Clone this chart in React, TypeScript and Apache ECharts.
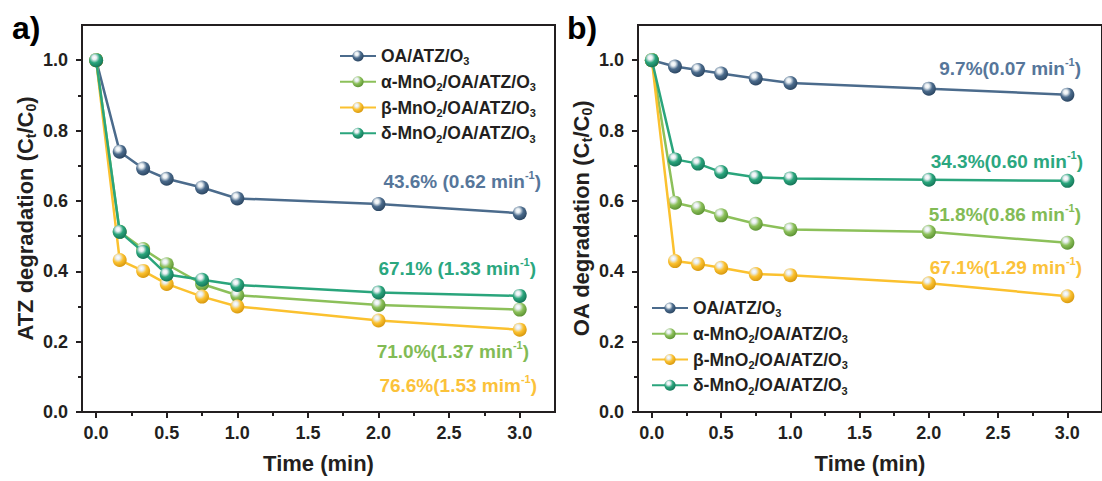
import React, { useEffect, useRef } from "react";
import * as echarts from "echarts";

const times = [0, 0.167, 0.333, 0.5, 0.75, 1, 2, 3];
const seriesNames = ["OA/ATZ/O3", "α-MnO2/OA/ATZ/O3", "β-MnO2/OA/ATZ/O3", "δ-MnO2/OA/ATZ/O3"];

const atzOA = [1, 0.74, 0.692, 0.663, 0.638, 0.607, 0.591, 0.565];
const atzAlpha = [1, 0.512, 0.463, 0.42, 0.364, 0.332, 0.304, 0.291];
const atzBeta = [1, 0.432, 0.401, 0.364, 0.328, 0.3, 0.26, 0.234];
const atzDelta = [1, 0.512, 0.455, 0.391, 0.376, 0.361, 0.34, 0.33];

const oaOA = [1, 0.982, 0.972, 0.962, 0.948, 0.935, 0.919, 0.902];
const oaAlpha = [1, 0.595, 0.58, 0.559, 0.535, 0.519, 0.512, 0.481];
const oaBeta = [1, 0.429, 0.421, 0.41, 0.392, 0.389, 0.366, 0.329];
const oaDelta = [1, 0.718, 0.706, 0.682, 0.667, 0.664, 0.66, 0.657];

const xTickLabels = [0, 0.5, 1, 1.5, 2, 2.5, 3];
const xMinorTicks = [0.25, 0.75, 1.25, 1.75, 2.25, 2.75];
const yTickLabels = [0, 0.2, 0.4, 0.6, 0.8, 1.0];
const yMinorTicks = [0.1, 0.3, 0.5, 0.7, 0.9];

const leftNotes = ["43.6% (0.62 min", "67.1% (1.33 min", "71.0%(1.37 min", "76.6%(1.53 mim"];
const rightNotes = ["9.7%(0.07 min", "34.3%(0.60 min", "51.8%(0.86 min", "67.1%(1.29 min"];

const colors = ["#4b6b8c", "#8cc05a", "#fbc12f", "#2aa57c"];
const darkColors = ["#2c4763", "#5e9435", "#d99a10", "#16775a"];
const noteColors = ["#56769a", "#82bb55", "#fbc23a", "#2ba77f"];

const FF = "'Liberation Sans', Arial, sans-serif";
const AX = "#231f20";

function richSet(size: number, color: string) {
  return {
    n: { fontSize: size, fontWeight: "bold", color, fontFamily: FF, lineHeight: size + 4 },
    sub: { fontSize: Math.round(size * 0.62), fontWeight: "bold", color, fontFamily: FF, verticalAlign: "bottom", lineHeight: Math.round(size * 0.62) },
    sup: { fontSize: Math.round(size * 0.62), fontWeight: "bold", color, fontFamily: FF, verticalAlign: "top", lineHeight: Math.round(size * 0.62) },
  };
}

function richFill(size: number, color: string) {
  const s = Math.round(size * 0.6);
  return {
    n: { fontSize: size, fontWeight: "bold", fill: color, fontFamily: FF, lineHeight: size + 4 },
    sup: { fontSize: s, fontWeight: "bold", fill: color, fontFamily: FF, verticalAlign: "top", lineHeight: s },
  };
}

function subText(name: string) {
  const parts = name.match(/(\d+|[^\d]+)/g) || [];
  return parts.map((p) => (/^\d+$/.test(p) ? `{sub|${p}}` : `{n|${p}}`)).join("");
}

function sphere(i: number) {
  return {
    type: "radial",
    x: 0.38,
    y: 0.32,
    r: 0.68,
    colorStops: [
      { offset: 0, color: "#ffffff" },
      { offset: 0.22, color: "#e8eef2" },
      { offset: 0.55, color: colors[i] },
      { offset: 1, color: darkColors[i] },
    ],
  };
}

export default function App() {
  const ref = useRef<HTMLDivElement>(null);
  useEffect(() => {
    document.body.style.margin = "0";
    const chart = echarts.init(ref.current!, null, { renderer: "svg" });
    const left = [atzOA, atzAlpha, atzBeta, atzDelta];
    const right = [oaOA, oaAlpha, oaBeta, oaDelta];

    const mainX = (gridIndex: number) => ({
      type: "value",
      gridIndex,
      position: "bottom",
      min: -0.1,
      max: 3.25,
      name: "Time (min)",
      nameLocation: "middle",
      nameGap: 40,
      nameTextStyle: { fontSize: 22, fontWeight: "bold", color: AX, fontFamily: FF },
      axisLine: { show: true, onZero: false, lineStyle: { color: AX, width: 2 } },
      axisTick: { show: true, customValues: xTickLabels, length: 6, lineStyle: { color: AX, width: 2 } },
      axisLabel: { customValues: xTickLabels, formatter: (v: number) => v.toFixed(1), margin: 12, fontSize: 18, fontWeight: "bold", color: AX, fontFamily: FF },
      splitLine: { show: false },
    });
    const minorX = (gridIndex: number) => ({
      type: "value",
      gridIndex,
      position: "bottom",
      min: -0.1,
      max: 3.25,
      axisLine: { show: false, onZero: false },
      axisTick: { show: true, customValues: xMinorTicks, length: 4, lineStyle: { color: AX, width: 2 } },
      axisLabel: { show: false },
      splitLine: { show: false },
    });
    const mainY = (gridIndex: number, title: string) => ({
      type: "value",
      gridIndex,
      position: "left",
      min: 0,
      max: 1.1,
      name: title,
      nameLocation: "middle",
      nameGap: 44,
      nameTextStyle: { rich: richSet(22, AX) },
      axisLine: { show: true, onZero: false, lineStyle: { color: AX, width: 2 } },
      axisTick: { show: true, customValues: yTickLabels, length: 6, lineStyle: { color: AX, width: 2 } },
      axisLabel: { customValues: yTickLabels, formatter: (v: number) => v.toFixed(1), margin: 14, fontSize: 18, fontWeight: "bold", color: AX, fontFamily: FF },
      splitLine: { show: false },
    });
    const minorY = (gridIndex: number) => ({
      type: "value",
      gridIndex,
      position: "left",
      min: 0,
      max: 1.1,
      axisLine: { show: false, onZero: false },
      axisTick: { show: true, customValues: yMinorTicks, length: 4, lineStyle: { color: AX, width: 2 } },
      axisLabel: { show: false },
      splitLine: { show: false },
    });

    const mkSeries = (vals: number[], i: number, axisIdx: number) => ({
      type: "line",
      name: seriesNames[i],
      xAxisIndex: axisIdx,
      yAxisIndex: axisIdx,
      data: times.map((t, k) => [t, vals[k]]),
      symbol: "circle",
      symbolSize: 14,
      color: colors[i],
      lineStyle: { color: colors[i], width: 2.5 },
      itemStyle: { color: sphere(i) as any },
      z: 2 + i,
    });

    const legendCommon = {
      orient: "vertical",
      itemWidth: 36,
      itemHeight: 14,
      itemGap: 6,
      data: seriesNames,
      formatter: (name: string) => subText(name),
      textStyle: { rich: richSet(17.5, AX) },
      selectedMode: false,
    };

    const note = (text: string, x: number, y: number, color: string) => ({
      type: "text",
      x,
      y,
      style: {
        text: `{n|${text}}{sup|-1}{n|)}`,
        align: "right",
        verticalAlign: "middle",
        rich: richFill(19, color),
      },
    });

    chart.setOption({
      animation: false,
      backgroundColor: "#ffffff",
      grid: [
        { left: 82, top: 25, width: 473, height: 387, show: true, borderColor: AX, borderWidth: 2, backgroundColor: "transparent" },
        { left: 638, top: 25, width: 472, height: 387, show: true, borderColor: AX, borderWidth: 2, backgroundColor: "transparent" },
      ],
      xAxis: [mainX(0), mainX(1), minorX(0), minorX(1)],
      yAxis: [
        mainY(0, "{n|ATZ degradation (C}{sub|t}{n|/C}{sub|0}{n|)}"),
        mainY(1, "{n|OA degradation (C}{sub|t}{n|/C}{sub|0}{n|)}"),
        minorY(0),
        minorY(1),
      ],
      legend: [
        { ...legendCommon, left: 334, top: 42 },
        { ...legendCommon, left: 646, top: 294 },
      ],
      series: [
        ...left.map((v, i) => mkSeries(v, i, 0)),
        ...right.map((v, i) => mkSeries(v, i, 1)),
      ],
      graphic: [
        { type: "text", x: 12, y: 12, style: { text: "a)", fontSize: 32, fontWeight: "bold", fill: "#000", fontFamily: FF } },
        { type: "text", x: 567, y: 12, style: { text: "b)", fontSize: 32, fontWeight: "bold", fill: "#000", fontFamily: FF } },
        note(leftNotes[0], 541, 181, noteColors[0]),
        note(leftNotes[1], 536, 268, noteColors[3]),
        note(leftNotes[2], 529, 351, noteColors[1]),
        note(leftNotes[3], 537, 385, noteColors[2]),
        note(rightNotes[0], 1081, 68, noteColors[0]),
        note(rightNotes[1], 1083, 161, noteColors[3]),
        note(rightNotes[2], 1081, 214, noteColors[1]),
        note(rightNotes[3], 1082, 267, noteColors[2]),
      ],
    } as any);
    return () => chart.dispose();
  }, []);
  return <div ref={ref} style={{ width: 1102, height: 481 }} />;
}
